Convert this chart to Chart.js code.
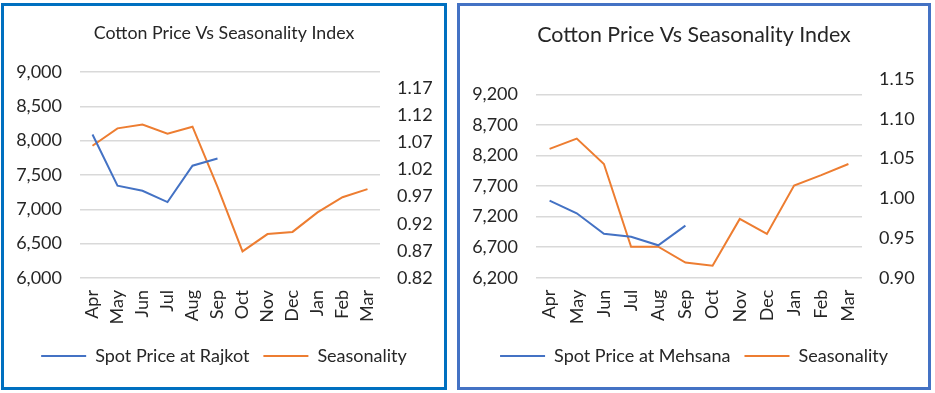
<!DOCTYPE html>
<html>
<head>
<meta charset="utf-8">
<script src="https://cdn.jsdelivr.net/npm/chart.js@4/dist/chart.umd.min.js"></script>
<style>
  html, body { margin: 0; padding: 0; background: #ffffff; }
  .box { position: absolute; box-sizing: border-box; border-style: solid; border-width: 3px; background: #fff; }
  #box1 { left: 1px; top: 3px; width: 446px; height: 387px; border-color: #0070C0; }
  #box2 { left: 457px; top: 3px; width: 474px; height: 387px; border-color: #4472C4; }
  canvas { display: block; }
</style>
</head>
<body>
<div class="box" id="box1"><canvas id="c1" width="440" height="381"></canvas></div>
<div class="box" id="box2"><canvas id="c2" width="468" height="381"></canvas></div>
<script>
// ---- data ----
const months = ['Apr','May','Jun','Jul','Aug','Sep','Oct','Nov','Dec','Jan','Feb','Mar'];

const chartTitle = 'Cotton Price Vs Seasonality Index';
const rajkotLabel = 'Spot Price at Rajkot';
const mehsanaLabel = 'Spot Price at Mehsana';
const seasonLabel = 'Seasonality';

const rajkotPrice  = [8090, 7345, 7270, 7105, 7635, 7740, null, null, null, null, null, null];
const rajkotSeason = [1.064, 1.096, 1.103, 1.086, 1.099, 0.988, 0.869, 0.901, 0.905, 0.941, 0.969, 0.984];

const mehsanaPrice  = [7462, 7255, 6921, 6872, 6731, 7052, null, null, null, null, null, null];
const mehsanaSeason = [1.062, 1.075, 1.043, 0.939, 0.939, 0.919, 0.915, 0.974, 0.955, 1.016, 1.029, 1.043];

const rajkotPriceTicks  = [6000, 6500, 7000, 7500, 8000, 8500, 9000];
const rajkotSeasonTicks = [0.82, 0.87, 0.92, 0.97, 1.02, 1.07, 1.12, 1.17];
const mehsanaPriceTicks  = [6200, 6700, 7200, 7700, 8200, 8700, 9200];
const mehsanaSeasonTicks = [0.90, 0.95, 1.00, 1.05, 1.10, 1.15];

// ---- styling ----
const FONT = 'Lato, Carlito, Calibri, sans-serif';
const BLUE = '#4472C4';
const ORANGE = '#ED7D31';
const GRID = '#D9D9D9';
const TXT = '#262626';
const FS = 18;

function makeChart(id, o) {
  const H = o.height;
  const legendShift = {
    id: 'legendShift',
    afterLayout(chart) {
      if (chart.legend) { chart.legend.left += o.legendDx; chart.legend.right += o.legendDx; }
    }
  };
  return new Chart(document.getElementById(id), {
    type: 'line',
    data: {
      labels: months,
      datasets: [
        { label: o.priceLabel, data: o.price, yAxisID: 'y', borderColor: BLUE, backgroundColor: BLUE,
          borderWidth: 2, pointRadius: 0, tension: 0, spanGaps: false },
        { label: seasonLabel, data: o.season, yAxisID: 'y1', borderColor: ORANGE, backgroundColor: ORANGE,
          borderWidth: 2, pointRadius: 0, tension: 0 }
      ]
    },
    plugins: [legendShift],
    options: {
      responsive: false,
      animation: false,
      devicePixelRatio: 1,
      layout: { padding: { top: 0, left: 0, right: 0, bottom: o.padBottom } },
      plugins: {
        tooltip: { enabled: false },
        title: {
          display: true, text: chartTitle, color: TXT,
          font: { family: FONT, size: o.titleSize, weight: 'normal', lineHeight: 1.2 },
          padding: { top: o.titleTop, bottom: o.titleBottom }
        },
        legend: {
          position: 'bottom',
          labels: {
            color: TXT, font: { family: FONT, size: FS },
            usePointStyle: true, pointStyle: 'line', pointStyleWidth: 45, boxHeight: 2,
            padding: 14
          }
        }
      },
      scales: {
        x: {
          offset: true,
          grid: { display: false, drawTicks: false, offset: true },
          border: { display: false },
          ticks: { color: TXT, font: { family: FONT, size: FS }, minRotation: 90, maxRotation: 90,
                   autoSkip: false, padding: 12 },
          afterFit: (s) => { s.height = H - o.padBottom - s.chart.legend.height - o.plotBottom; }
        },
        y: {
          position: 'left',
          min: o.yMin, max: o.yMax,
          grid: { color: GRID, lineWidth: 1.5, drawTicks: false },
          border: { display: false },
          ticks: { color: TXT, font: { family: FONT, size: FS }, padding: 18,
                   callback: (v) => v.toLocaleString('en-US') },
          afterBuildTicks: (s) => { s.ticks = o.yTicks.map(v => ({ value: v })); },
          afterFit: (s) => { s.width = o.leftW; }
        },
        y1: {
          position: 'right',
          min: o.y1Min, max: o.y1Max,
          grid: { display: false, drawTicks: false },
          border: { display: false },
          ticks: { color: TXT, font: { family: FONT, size: FS }, padding: 17,
                   callback: (v) => Number(v).toFixed(2) },
          afterBuildTicks: (s) => { s.ticks = o.y1Ticks.map(v => ({ value: v })); },
          afterFit: (s) => { s.width = o.rightW; }
        }
      }
    }
  });
}

makeChart('c1', {
  height: 381, priceLabel: rajkotLabel, price: rajkotPrice, season: rajkotSeason,
  yMin: 6000, yMax: 9000, yTicks: rajkotPriceTicks,
  y1Min: 0.82, y1Max: 1.20, y1Ticks: rajkotSeasonTicks,
  titleSize: 17.8, titleTop: 16.3, titleBottom: 28.3,
  leftW: 76, rightW: 64, plotBottom: 272, padBottom: 12, legendDx: 0
});

makeChart('c2', {
  height: 381, priceLabel: mehsanaLabel, price: mehsanaPrice, season: mehsanaSeason,
  yMin: 6200, yMax: 9455, yTicks: mehsanaPriceTicks,
  y1Min: 0.90, y1Max: 1.15, y1Ticks: mehsanaSeasonTicks,
  titleSize: 21.4, titleTop: 16.2, titleBottom: 31.1,
  leftW: 76, rightW: 66, plotBottom: 271.7, padBottom: 12, legendDx: 0
});
</script>
</body>
</html>
